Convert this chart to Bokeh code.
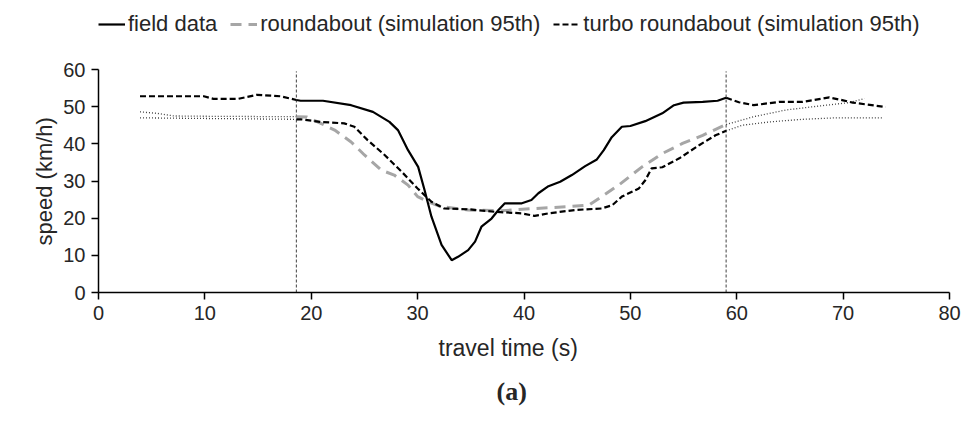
from bokeh.plotting import figure
from bokeh.models import Legend, LegendItem, Range1d, FixedTicker, Title
from bokeh.embed import file_html
from bokeh.resources import INLINE

# ---------------- data ----------------
x_ticks = [0, 10, 20, 30, 40, 50, 60, 70, 80]
y_ticks = [0, 10, 20, 30, 40, 50, 60]
boundary_times = [18.6, 59.0]

# field data (measured, solid) between the two boundaries
field_t = [18.6, 19.0, 21.1, 23.75, 25.8, 27.35, 28.15, 29.1, 30.05, 30.65, 31.3, 32.25, 33.2,
           33.8, 34.75, 35.4, 36.0, 36.95, 37.6, 38.2, 39.8, 40.7, 41.35, 42.3, 43.4, 44.5,
           45.75, 46.85, 47.5, 48.25, 49.2, 50.0, 51.4, 53.0, 54.1, 55.0, 56.8, 58.2, 59.0]
field_v = [51.8, 51.6, 51.6, 50.4, 48.6, 45.9, 43.7, 38.3, 33.8, 27.6, 20.4, 12.8, 8.7,
           9.6, 11.4, 13.7, 17.7, 19.9, 22.2, 24.0, 24.0, 24.9, 26.7, 28.6, 29.8, 31.6,
           34.0, 35.8, 38.3, 41.8, 44.6, 44.8, 46.1, 48.2, 50.4, 51.1, 51.3, 51.6, 52.4]

# field data outside the boundaries (dashed)
field_pre_t = [3.9, 9.9, 10.8, 13.1, 14.9, 17.1, 18.6]
field_pre_v = [52.8, 52.8, 52.1, 52.1, 53.2, 52.8, 51.8]
field_post_t = [59.0, 60.2, 61.6, 64.0, 66.2, 68.7, 70.0, 70.9, 74.0]
field_post_v = [52.4, 51.2, 50.4, 51.3, 51.3, 52.5, 51.7, 51.1, 49.9]

# roundabout simulation (95th)
rb_t = [18.6, 19.6, 20.9, 22.2, 23.75, 25.0, 26.6, 27.8, 29.1, 30.0, 31.0, 32.2, 34.75,
        37.9, 41.0, 44.2, 46.1, 47.3, 48.9, 51.1, 53.0, 54.9, 56.8, 59.0]
rb_v = [47.3, 47.2, 45.5, 43.7, 40.5, 37.0, 32.9, 31.6, 28.9, 25.8, 24.4, 23.1, 22.2,
        22.0, 22.6, 23.1, 23.5, 25.8, 28.9, 33.8, 37.4, 40.1, 42.3, 45.2]
rb_pre_t = [3.9, 5.5, 7.1, 10.8, 18.6]
rb_pre_v = [48.6, 48.2, 47.5, 47.4, 47.3]
rb_post_t = [59.0, 61.6, 64.6, 67.8, 70.6, 72.0]
rb_post_v = [45.2, 47.3, 49.1, 50.2, 51.1, 52.2]

# turbo roundabout simulation (95th)
tr_t = [18.6, 19.0, 20.9, 23.1, 24.05, 25.3, 26.9, 28.5, 30.0, 31.3, 32.5, 34.75, 37.3,
        39.8, 41.0, 42.3, 44.8, 47.3, 48.3, 49.2, 50.8, 51.4, 52.0, 53.0, 54.6, 56.5,
        58.0, 59.0]
tr_v = [46.6, 46.6, 45.9, 45.5, 44.6, 41.0, 37.0, 32.5, 28.0, 24.4, 22.6, 22.4, 21.7,
        21.3, 20.6, 21.3, 22.2, 22.6, 23.5, 25.8, 28.0, 30.2, 33.4, 33.7, 36.1, 39.7,
        42.3, 43.5]
tr_pre_t = [3.9, 10.8, 18.6]
tr_pre_v = [47.0, 46.8, 46.6]
tr_post_t = [59.0, 60.5, 63.1, 66.2, 69.3, 73.8]
tr_post_v = [43.5, 45.0, 45.9, 46.6, 47.0, 47.0]

series_names = ["field data", "roundabout (simulation 95th)", "turbo roundabout (simulation 95th)"]

# ---------------- figure ----------------
FONT = "Liberation Sans"
TXT = "#262626"

# frame extends to the top of the canvas so the legend can sit inside it;
# 60 km/h lands ~69 px from the top, the axis line is bounded to 0..60
p = figure(width=966, height=425, x_range=Range1d(0, 80), y_range=Range1d(0, 78.03),
           output_backend="svg", toolbar_location=None,
           min_border_left=98, min_border_right=17, min_border_top=2, min_border_bottom=133)
p.xgrid.visible = False
p.ygrid.visible = False
p.outline_line_color = None
p.background_fill_color = "white"
p.border_fill_color = "white"

for ax, ticks in ((p.xaxis, x_ticks), (p.yaxis, y_ticks)):
    ax.ticker = FixedTicker(ticks=ticks)
    ax.major_tick_in = 0
    ax.major_tick_out = 7
    ax.minor_tick_in = 0
    ax.minor_tick_out = 0
    ax.axis_line_color = "black"
    ax.axis_line_width = 1.5
    ax.major_tick_line_color = "black"
    ax.major_tick_line_width = 1.5
    ax.major_label_text_font = FONT
    ax.major_label_text_font_size = "20px"
    ax.major_label_text_color = TXT
    ax.major_label_standoff = 6
p.yaxis.bounds = (0, 60)

# boundary lines
p.segment(x0=boundary_times, y0=[0, 0], x1=boundary_times, y1=[59.5, 59.5],
          line_color="#404040", line_width=1, line_dash="3 2")

dot_style = dict(line_color="#404040", line_width=1.3, line_dash="1 2")
p.line(rb_pre_t, rb_pre_v, **dot_style)
p.line(tr_pre_t, tr_pre_v, **dot_style)
p.line(rb_post_t, rb_post_v, **dot_style)
p.line(tr_post_t, tr_post_v, **dot_style)

p.line(field_pre_t, field_pre_v, line_color="black", line_width=2.2, line_dash="6 3")
p.line(field_post_t, field_post_v, line_color="black", line_width=2.2, line_dash="6 3")

r_rb = p.line(rb_t, rb_v, line_color="#A6A6A6", line_width=3, line_dash="11 7")
r_tr = p.line(tr_t, tr_v, line_color="black", line_width=2.2, line_dash="6 3")
r_field = p.line(field_t, field_v, line_color="black", line_width=2.2)

legend = Legend(items=[LegendItem(label=series_names[0], renderers=[r_field]),
                       LegendItem(label=series_names[1], renderers=[r_rb]),
                       LegendItem(label=series_names[2], renderers=[r_tr])],
                orientation="horizontal", location=(0, 255),
                padding=0, margin=0, spacing=13, glyph_width=27, glyph_height=20,
                label_standoff=3, border_line_color=None, background_fill_alpha=0,
                label_text_font=FONT, label_text_font_size="22px", label_text_color=TXT)
p.add_layout(legend, "center")

# y-axis title, placed relative to the 0..60 part of the frame
p.add_layout(Title(text="speed (km/h)", align="left", offset=47, standoff=8,
                   text_font=FONT, text_font_size="22px", text_font_style="normal",
                   text_color=TXT), "left")

p.add_layout(Title(text="travel time (s)", align="left", offset=340, standoff=20,
                   text_font=FONT, text_font_size="23px", text_font_style="normal",
                   text_color=TXT), "below")
p.add_layout(Title(text="(a)", align="left", offset=398, standoff=8,
                   text_font="Liberation Serif", text_font_size="26px",
                   text_font_style="bold", text_color=TXT), "below")

open("out.html", "w").write(file_html(p, INLINE))
